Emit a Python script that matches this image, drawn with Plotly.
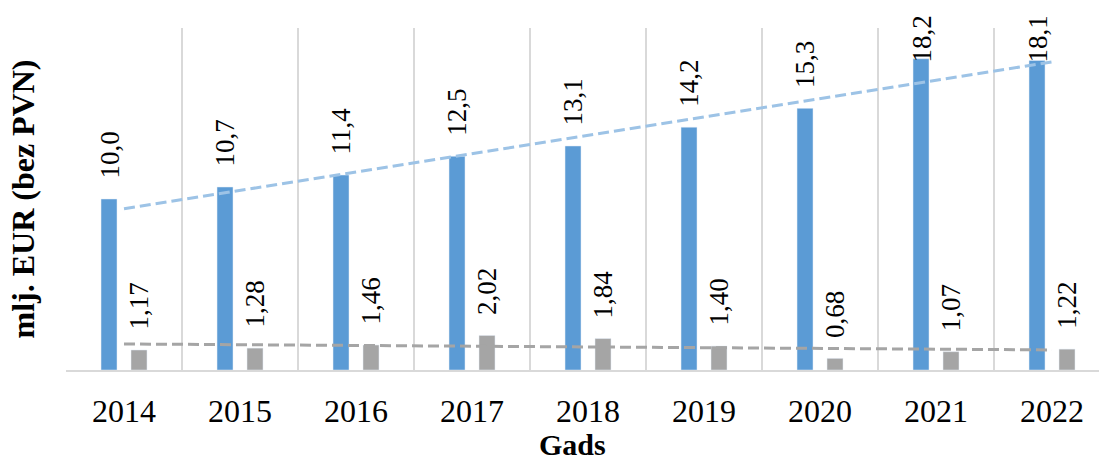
import numpy as np
import plotly.graph_objects as go

# ---- data ----
years = ["2014", "2015", "2016", "2017", "2018", "2019", "2020", "2021", "2022"]
series_a = [10.0, 10.7, 11.4, 12.5, 13.1, 14.2, 15.3, 18.2, 18.1]
series_b = [1.17, 1.28, 1.46, 2.02, 1.84, 1.40, 0.68, 1.07, 1.22]
x_title = "Gads"
y_title = "mlj. EUR (bez PVN)"

# ---- style ----
FONT = "Liberation Serif, Times New Roman, serif"
BLUE = "#5B9BD5"
BLUE_TREND = "#9DC3E6"
GRAY = "#A5A5A5"
GRID = "#D9D9D9"
W, H = 1099, 462
M_L, M_R, M_T, M_B = 66, 0, 28, 92
Y_MAX = 20
LABEL_SIZE = 27
LABEL_GAP = 18          # px between bar top and label
LABEL_LEN = 47          # approx rotated label length in px
CLAMP_ABOVE = 14        # px above plot top where labels are clamped
BAR_SHIFT = 15          # px offset of each bar from category centre

plot_h = H - M_T - M_B
plot_w = W - M_L - M_R
ppu = plot_h / Y_MAX

fig = go.Figure()
fig.add_trace(go.Bar(x=years, y=series_a, marker_color=BLUE, name="A"))
fig.add_trace(go.Bar(x=years, y=series_b, marker_color=GRAY, name="B"))

# linear trendlines
idx = np.arange(len(years))
for vals, col in ((series_a, BLUE_TREND), (series_b, GRAY)):
    k, b = np.polyfit(idx, vals, 1)
    fig.add_trace(go.Scatter(x=years, y=k * idx + b, mode="lines",
                             line=dict(color=col, width=3, dash="11px,5px"),
                             hoverinfo="skip"))

def fmt(v, d):
    return f"{v:.{d}f}".replace(".", ",")

annotations = []
for vals, d, shift in ((series_a, 1, -BAR_SHIFT), (series_b, 2, BAR_SHIFT)):
    for i, v in enumerate(vals):
        txt = fmt(v, d)
        top_px = v * ppu + LABEL_GAP + LABEL_LEN
        base = dict(x=i, xref="x", xshift=shift, text=txt, textangle=-90,
                    showarrow=False,
                    font=dict(family=FONT, size=LABEL_SIZE, color="black"))
        if top_px > plot_h + CLAMP_ABOVE:
            base.update(y=1, yref="paper", yanchor="top", yshift=CLAMP_ABOVE)
        else:
            base.update(y=v, yref="y", yanchor="bottom", yshift=LABEL_GAP)
        annotations.append(base)

# x-axis title (positioned as in the reference, slightly left of plot centre)
annotations.append(dict(text=x_title, xref="paper", yref="paper",
                        x=(572 - M_L) / plot_w, y=-(444 - (H - M_B)) / plot_h,
                        xanchor="center", yanchor="middle", showarrow=False,
                        borderpad=0,
                        font=dict(family=FONT, size=30, color="black", weight="bold")))

fig.update_layout(
    width=W, height=H,
    margin=dict(l=M_L, r=M_R, t=M_T, b=M_B, autoexpand=False),
    paper_bgcolor="white", plot_bgcolor="white",
    showlegend=False,
    barmode="group", bargap=0.483, bargroupgap=0.467,
    font=dict(family=FONT, color="black"),
    annotations=annotations,
)
fig.update_xaxes(
    type="category", range=[-0.5, 8.405],
    showgrid=True, gridcolor=GRID, gridwidth=1.5, tickson="boundaries",
    ticks="", showline=True, linecolor=GRID, linewidth=2,
    tickfont=dict(family=FONT, size=32, color="black"),
    ticklabelstandoff=12,
)
fig.update_yaxes(
    range=[0, Y_MAX], showgrid=False, showticklabels=False, zeroline=False,
    showline=False, ticks="",
    title=dict(text=y_title, font=dict(family=FONT, size=32, color="black", weight="bold"),
               standoff=20),
)

fig.write_html("out.html", config={"displayModeBar": False},
               post_script="document.body.style.margin='0';")
